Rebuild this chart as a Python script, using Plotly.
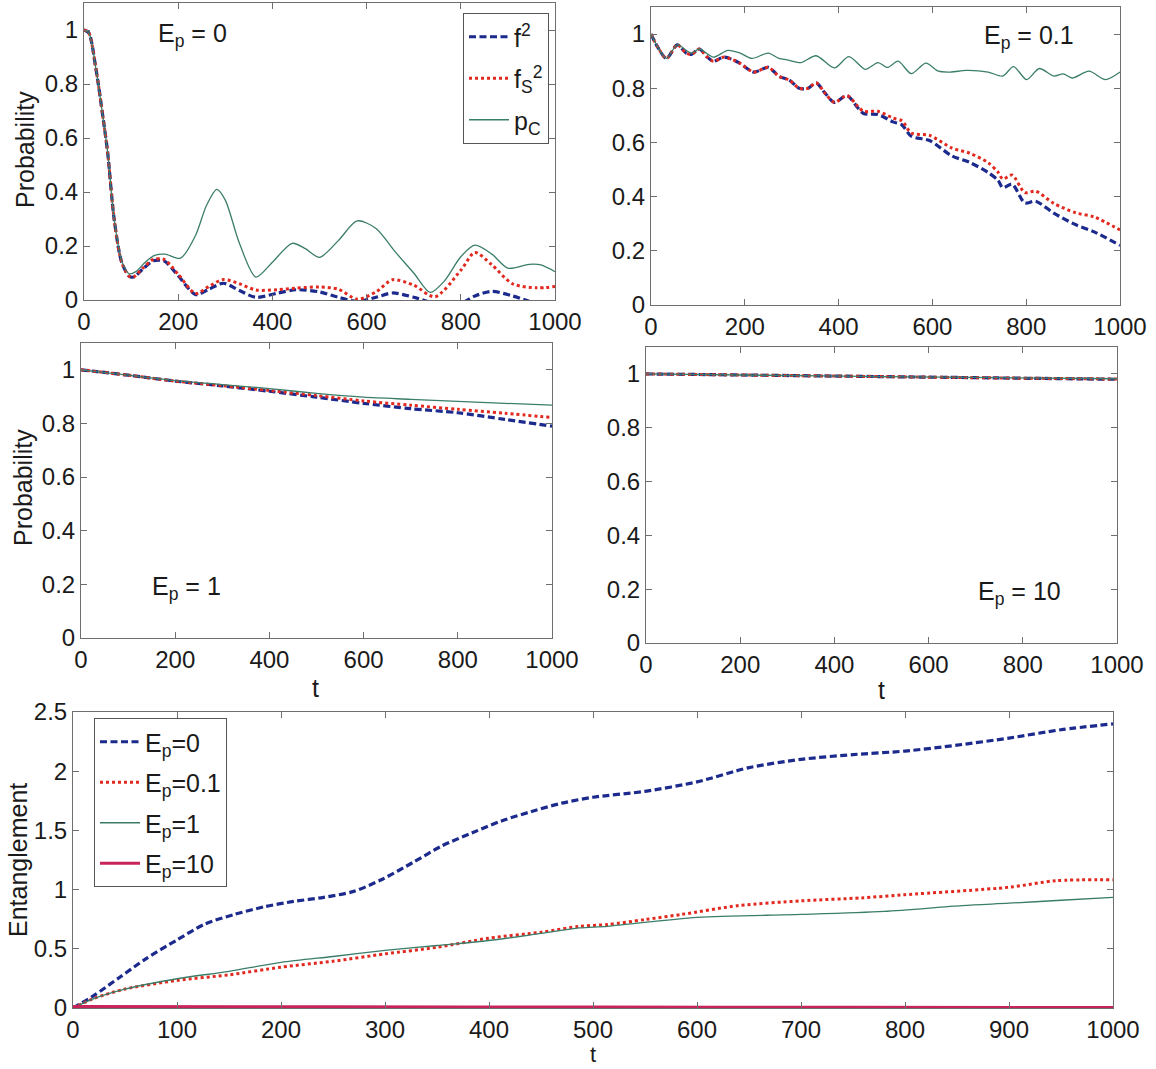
import plotly.graph_objects as go

W, H = 1156, 1069
FONT = "Liberation Sans, Arial, sans-serif"

# ---------------- data ----------------
# Panel 1: E_p = 0
T_E0 = [0, 10, 25, 40, 50, 64, 80, 96, 105, 125, 147, 170, 200, 237, 265, 296, 330, 365, 410, 450,
        500, 540, 580, 620, 655, 700, 745, 800, 830, 866, 910, 961, 1000]
F2_E0 = [1.0, 0.99, 0.86, 0.68, 0.55, 0.30, 0.14, 0.088, 0.085, 0.115, 0.145, 0.145, 0.09, 0.02, 0.04,
         0.062, 0.035, 0.01, 0.025, 0.038, 0.03, 0.01, -0.005, 0.01, 0.026, 0.01, -0.012, -0.012, 0.015,
         0.032, 0.015, -0.012, -0.012]
FS2_E0 = [1.0, 0.99, 0.86, 0.68, 0.55, 0.30, 0.14, 0.088, 0.085, 0.118, 0.15, 0.15, 0.095, 0.024, 0.05,
          0.076, 0.06, 0.037, 0.038, 0.044, 0.048, 0.04, 0.003, 0.03, 0.075, 0.055, 0.012, 0.11, 0.176,
          0.13, 0.06, 0.045, 0.05]
T_PC0 = [0, 10, 25, 40, 50, 64, 80, 96, 110, 130, 150, 172, 205, 237, 260, 282, 300, 330, 365, 400,
         442, 470, 500, 540, 580, 620, 660, 700, 735, 765, 800, 830, 866, 900, 945, 970, 1000]
PC_E0 = [1.0, 0.99, 0.86, 0.68, 0.55, 0.30, 0.145, 0.097, 0.105, 0.14, 0.165, 0.17, 0.155, 0.24, 0.35,
         0.41, 0.37, 0.21, 0.085, 0.14, 0.21, 0.19, 0.158, 0.22, 0.293, 0.265, 0.18, 0.10, 0.028, 0.07,
         0.16, 0.203, 0.17, 0.118, 0.132, 0.13, 0.105]

# Panel 2: E_p = 0.1
T_E01 = [0, 15, 33, 56, 75, 86, 103, 120, 133, 156, 188, 219, 250, 273, 295, 316, 335, 352, 372, 391,
         418, 440, 453, 484, 516, 535, 555, 594, 641, 680, 719, 740, 750, 770, 797, 820, 859, 906, 945, 1000]
F2_E01 = [1.0, 0.95, 0.91, 0.96, 0.93, 0.925, 0.945, 0.915, 0.90, 0.915, 0.894, 0.86, 0.877, 0.844, 0.83,
          0.80, 0.80, 0.82, 0.78, 0.748, 0.773, 0.73, 0.707, 0.703, 0.676, 0.665, 0.623, 0.607, 0.551,
          0.526, 0.489, 0.46, 0.433, 0.446, 0.377, 0.383, 0.339, 0.296, 0.27, 0.22]
FS2_E01 = [1.0, 0.95, 0.91, 0.96, 0.93, 0.925, 0.945, 0.915, 0.90, 0.915, 0.894, 0.86, 0.877, 0.844, 0.83,
           0.80, 0.80, 0.82, 0.78, 0.748, 0.773, 0.735, 0.715, 0.715, 0.69, 0.68, 0.635, 0.626, 0.58,
           0.56, 0.525, 0.49, 0.465, 0.48, 0.415, 0.42, 0.375, 0.34, 0.325, 0.277]
T_PC01 = [0, 15, 33, 56, 86, 103, 133, 164, 190, 215, 250, 273, 290, 320, 352, 391, 422, 457, 484, 504,
          527, 555, 586, 613, 640, 672, 719, 750, 773, 801, 828, 859, 879, 898, 934, 969, 1000]
PC_E01 = [1.0, 0.95, 0.91, 0.96, 0.93, 0.945, 0.915, 0.94, 0.93, 0.91, 0.93, 0.91, 0.905, 0.895, 0.92,
          0.875, 0.917, 0.87, 0.895, 0.877, 0.90, 0.854, 0.893, 0.863, 0.86, 0.866, 0.86, 0.845, 0.88,
          0.832, 0.873, 0.845, 0.853, 0.838, 0.863, 0.832, 0.86]

# Panel 3: E_p = 1
T_E1 = [0, 100, 200, 300, 400, 500, 600, 700, 800, 900, 1000]
F2_E1 = [1.0, 0.98, 0.958, 0.94, 0.92, 0.898, 0.875, 0.855, 0.84, 0.815, 0.79]
FS2_E1 = [1.0, 0.98, 0.958, 0.941, 0.923, 0.904, 0.884, 0.868, 0.853, 0.838, 0.822]
PC_E1 = [1.0, 0.98, 0.96, 0.945, 0.93, 0.912, 0.898, 0.89, 0.882, 0.875, 0.868]

# Panel 4: E_p = 10
T_E10 = [0, 250, 500, 750, 1000]
F2_E10 = [1.0, 0.995, 0.99, 0.985, 0.98]
FS2_E10 = [1.0, 0.995, 0.99, 0.985, 0.981]
PC_E10 = [1.0, 0.995, 0.99, 0.986, 0.982]

# Panel 5: entanglement
T_ENT0 = [0, 20, 45, 70, 100, 127, 155, 184, 212, 241, 270, 298, 327, 355, 384, 412, 441, 470, 500,
          550, 600, 650, 700, 750, 800, 850, 900, 950, 1000]
ENT_E0 = [0, 0.105, 0.26, 0.415, 0.575, 0.71, 0.79, 0.855, 0.90, 0.934, 0.985, 1.09, 1.23, 1.37, 1.48,
          1.58, 1.66, 1.73, 1.78, 1.83, 1.91, 2.03, 2.10, 2.14, 2.17, 2.22, 2.28, 2.35, 2.40]
T_ENT01 = [0, 20, 50, 100, 150, 200, 250, 300, 350, 400, 450, 487, 514, 550, 585, 640, 700, 758, 800,
           900, 945, 1000]
ENT_E01 = [0, 0.08, 0.16, 0.233, 0.28, 0.345, 0.395, 0.457, 0.513, 0.59, 0.64, 0.69, 0.705, 0.747, 0.79,
           0.865, 0.905, 0.93, 0.957, 1.02, 1.075, 1.083]
T_ENT1 = [0, 20, 50, 100, 150, 200, 250, 300, 350, 400, 450, 487, 514, 600, 700, 780, 855, 900, 950, 1000]
ENT_E1 = [0, 0.08, 0.16, 0.247, 0.31, 0.385, 0.435, 0.486, 0.528, 0.57, 0.63, 0.676, 0.69, 0.766, 0.79,
          0.816, 0.865, 0.885, 0.91, 0.934]
T_ENT10 = [0, 250, 500, 750, 1000]
ENT_E10 = [0.012, 0.01, 0.008, 0.006, 0.004]

PROB_TICKS = [0, 0.2, 0.4, 0.6, 0.8, 1]
T_TICKS_TOP = [0, 200, 400, 600, 800, 1000]
ENT_TICKS = [0, 0.5, 1, 1.5, 2, 2.5]
T_TICKS_BOTTOM = [0, 100, 200, 300, 400, 500, 600, 700, 800, 900, 1000]

PANEL_LABELS = ["E<sub>p</sub> = 0", "E<sub>p</sub> = 0.1", "E<sub>p</sub> = 1", "E<sub>p</sub> = 10"]
SERIES_NAMES = ["f<sup>2</sup>", "f<sub>S</sub><sup>2</sup>", "p<sub>C</sub>"]
ENT_NAMES = ["E<sub>p</sub>=0", "E<sub>p</sub>=0.1", "E<sub>p</sub>=1", "E<sub>p</sub>=10"]

# ---------------- styling ----------------
BLUE = "#1b2a8c"
RED = "#e2291f"
GREEN = "#3a7d6a"
MAGENTA = "#c8245a"
AXC = "#6e6e6e"

DASH_B = "7px,3.5px"
DOT_R = "dot"
TICK_SIZE = 24
TEXT_SIZE = 25


def dx(a, b):
    return [a / W, b / W]


def dy(top, bottom):
    return [1 - bottom / H, 1 - top / H]


fig = go.Figure()


def add_prob(ax, t_f, f2, fs2, t_pc, pc, legend):
    xa, ya = ("x" + ax, "y" + ax)
    fig.add_trace(go.Scatter(x=t_f, y=f2, mode="lines", name=SERIES_NAMES[0], xaxis=xa, yaxis=ya,
                             line=dict(color=BLUE, width=3.2, dash=DASH_B, shape="spline", smoothing=0.8),
                             showlegend=legend, legendgroup="a"))
    fig.add_trace(go.Scatter(x=t_f, y=fs2, mode="lines", name=SERIES_NAMES[1], xaxis=xa, yaxis=ya,
                             line=dict(color=RED, width=3, dash=DOT_R, shape="spline", smoothing=0.8),
                             showlegend=legend, legendgroup="b"))
    fig.add_trace(go.Scatter(x=t_pc, y=pc, mode="lines", name=SERIES_NAMES[2], xaxis=xa, yaxis=ya,
                             line=dict(color=GREEN, width=1.3, shape="spline", smoothing=0.8),
                             showlegend=legend, legendgroup="c"))


add_prob("", T_E0, F2_E0, FS2_E0, T_PC0, PC_E0, True)
add_prob("2", T_E01, F2_E01, FS2_E01, T_PC01, PC_E01, False)
add_prob("3", T_E1, F2_E1, FS2_E1, T_E1, PC_E1, False)
add_prob("4", T_E10, F2_E10, FS2_E10, T_E10, PC_E10, False)

ent_series = [
    (T_ENT0, ENT_E0, dict(color=BLUE, width=3.2, dash=DASH_B)),
    (T_ENT01, ENT_E01, dict(color=RED, width=3, dash=DOT_R)),
    (T_ENT1, ENT_E1, dict(color=GREEN, width=1.3)),
    (T_ENT10, ENT_E10, dict(color=MAGENTA, width=3)),
]
for i, (tt, vv, ln) in enumerate(ent_series):
    ln = dict(ln, shape="spline", smoothing=0.8)
    fig.add_trace(go.Scatter(x=tt, y=vv, mode="lines", name=ENT_NAMES[i], xaxis="x5", yaxis="y5",
                             line=ln, legend="legend2", legendgroup="e%d" % i))

axis_common = dict(showline=True, linecolor=AXC, linewidth=1, mirror="ticks", ticks="inside",
                   ticklen=6, tickcolor=AXC, showgrid=False, zeroline=False, automargin=False,
                   tickfont=dict(family=FONT, size=TICK_SIZE, color="#1a1a1a"))

panels = [
    ("", (84, 555), (3, 300)),
    ("2", (651, 1120), (7, 305)),
    ("3", (81, 552), (343, 638)),
    ("4", (646, 1117), (347, 643)),
]
layout = {}
for ax, (xl, xr), (yt, yb) in panels:
    xname = "xaxis" + ax
    yname = "yaxis" + ax
    anchor_x = "x" + ax
    anchor_y = "y" + ax
    layout[xname] = dict(axis_common, domain=dx(xl, xr), range=[0, 1000], tickvals=T_TICKS_TOP,
                         anchor=anchor_y)
    layout[yname] = dict(axis_common, domain=dy(yt, yb), range=[0, 1.1], tickvals=PROB_TICKS,
                         anchor=anchor_x, ticklabelstandoff=0)

layout["xaxis5"] = dict(axis_common, domain=dx(73, 1113), range=[0, 1000], tickvals=T_TICKS_BOTTOM,
                        anchor="y5")
layout["yaxis5"] = dict(axis_common, domain=dy(712, 1008), range=[0, 2.5], tickvals=ENT_TICKS,
                        anchor="x5", ticklabelstandoff=0)

ann_font = dict(family=FONT, size=TEXT_SIZE, color="#1a1a1a")
annotations = [
    dict(text=PANEL_LABELS[0], x=156 / W, y=1 - 17 / H, xanchor="left", yanchor="top"),
    dict(text=PANEL_LABELS[1], x=982 / W, y=1 - 19 / H, xanchor="left", yanchor="top"),
    dict(text=PANEL_LABELS[2], x=150 / W, y=1 - 570 / H, xanchor="left", yanchor="top"),
    dict(text=PANEL_LABELS[3], x=976 / W, y=1 - 575 / H, xanchor="left", yanchor="top"),
    dict(text="Probability", x=25 / W, y=1 - 150 / H, xanchor="center", yanchor="middle", textangle=-90),
    dict(text="Probability", x=23 / W, y=1 - 488 / H, xanchor="center", yanchor="middle", textangle=-90),
    dict(text="Entanglement", x=18 / W, y=1 - 860 / H, xanchor="center", yanchor="middle", textangle=-90),
    dict(text="t", x=315 / W, y=1 - 688 / H, xanchor="center", yanchor="middle"),
    dict(text="t", x=881 / W, y=1 - 690 / H, xanchor="center", yanchor="middle"),
    dict(text="t", x=593 / W, y=0, xanchor="center", yanchor="bottom", font_size=22),
]
for a in annotations:
    fs = a.pop("font_size", TEXT_SIZE)
    a.update(xref="paper", yref="paper", showarrow=False, font=dict(ann_font, size=fs))

fig.update_layout(
    template=go.layout.Template(),
    width=W, height=H, margin=dict(l=0, r=0, t=0, b=0, pad=0, autoexpand=False),
    paper_bgcolor="white", plot_bgcolor="white",
    font=dict(family=FONT, size=22, color="#1a1a1a"),
    annotations=annotations,
    showlegend=True,
    legend=dict(x=463 / W, y=1 - 13 / H, xanchor="left", yanchor="top", bgcolor="white",
                bordercolor="#555555", borderwidth=1, font=dict(family=FONT, size=TEXT_SIZE, color="#1a1a1a"),
                itemwidth=40, tracegroupgap=6, traceorder="grouped"),
    legend2=dict(x=94 / W, y=1 - 718 / H, xanchor="left", yanchor="top", bgcolor="white",
                 bordercolor="#555555", borderwidth=1, font=dict(family=FONT, size=TEXT_SIZE, color="#1a1a1a"),
                 itemwidth=40, tracegroupgap=5, traceorder="grouped"),
    **layout,
)

fig.write_html("out.html")
